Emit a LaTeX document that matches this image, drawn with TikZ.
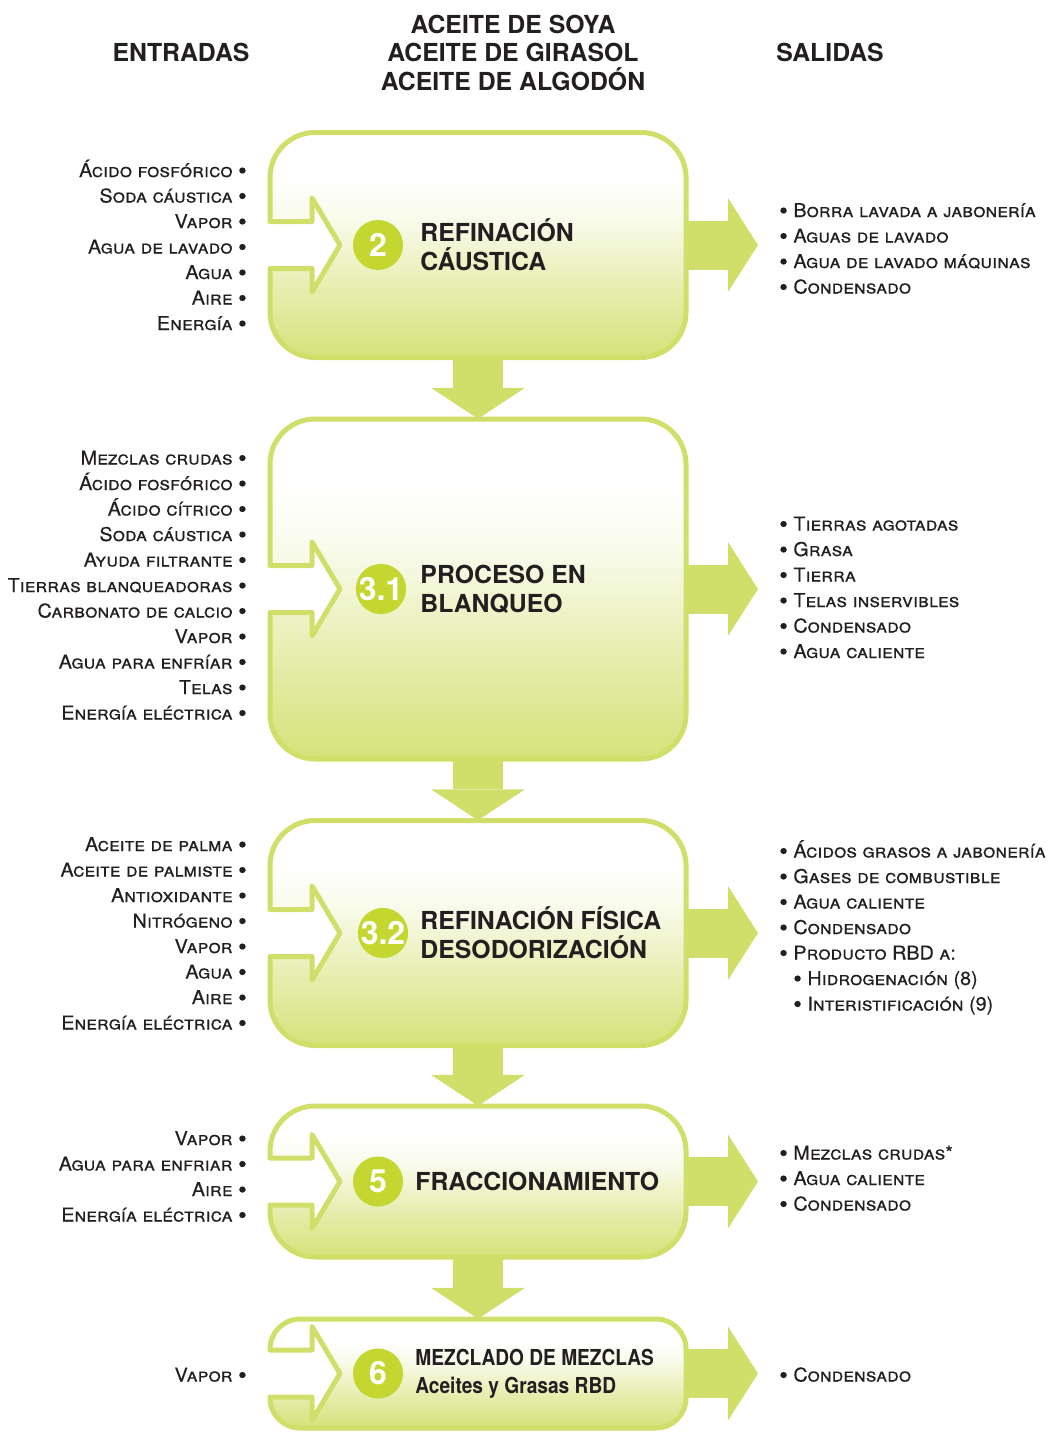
\documentclass[tikz,border=0pt]{standalone}
\usepackage{fontspec}
\setmainfont{TeX Gyre Heros}
\usetikzlibrary{arrows.meta, positioning}

\definecolor{boxgreen}{RGB}{208,223,106}
\definecolor{numgreen}{RGB}{196,215,48}
\definecolor{txtblack}{RGB}{35,31,32}

\pgfdeclareverticalshading{boxshade}{100bp}{color(0bp)=(boxgreen); color(25bp)=(boxgreen!90!white); color(40bp)=(boxgreen!55!white); color(55bp)=(boxgreen!15!white); color(65bp)=(white); color(100bp)=(white)}

% list bullet, a bit larger than the text
\newcommand{\bul}{\raisebox{-1.8pt}{\fontsize{24}{24}\selectfont\textbullet}}

% process box with the input notch: name, centre y, half height, corner radius
\newcommand{\procbox}[4]{%
  \node[boxarea, minimum height={2*#3}] (#1) at (478,#2) {};
  \draw[boxline, rounded corners=#4]
    (270,#2-23.5) -- (270,#2-#3) -- (686,#2-#3) -- (686,#2+#3) -- (270,#2+#3)
    [sharp corners] -- (270,#2+23.5) -- (312,#2+23.5) -- (312,#2+47) -- (340,#2)
    -- (312,#2-47) -- (312,#2-23.5) -- cycle;
}

\begin{document}
\begin{tikzpicture}[
  x=1pt, y=-1pt,
  boxarea/.style={minimum width=416pt, inner sep=0pt},
  boxline/.style={draw=boxgreen, line width=5pt, shading=boxshade, line join=round},
  num/.style={circle, fill=numgreen, minimum size=50pt, inner sep=0pt, text=white, font=\fontsize{32}{32}\selectfont\bfseries},
  title/.style={anchor=west, align=left, inner sep=0pt, text=txtblack, font=\fontsize{24.8}{29}\selectfont\bfseries},
  head/.style={align=center, inner sep=0pt, text=txtblack, font=\fontsize{24.8}{28.5}\selectfont\bfseries},
  inlist/.style={anchor=base east, align=right, inner sep=0pt, text=txtblack, font=\fontsize{19}{25.5}\selectfont\scshape\addfontfeatures{FakeStretch=1.04, FakeBold=0.3}},
  outlist/.style={anchor=base west, align=left, inner sep=0pt, text=txtblack, font=\fontsize{19}{25.5}\selectfont\scshape\addfontfeatures{FakeStretch=1.04, FakeBold=0.3}},
  flow/.style={draw=boxgreen, line width=50pt, -{Triangle[width=94pt, length=31pt, line width=0pt]}},
  outflow/.style={draw=boxgreen, line width=49pt, -{Triangle[width=94pt, length=30pt, line width=0pt]}}
]
\useasboundingbox (0,0) rectangle (1051,1432);

% Headers
\node[head] (hin) at (181,52) {ENTRADAS};
\node[head] (hoil) at (513,52.5) {ACEITE DE SOYA\\ACEITE DE GIRASOL\\ACEITE DE ALGODÓN};
\node[head] (hout) at (830,52) {SALIDAS};

% Process boxes
\procbox{b1}{245}{112.5}{45pt}
\procbox{b2}{589}{170}{45pt}
\procbox{b3}{933}{112.5}{45pt}
\procbox{b4}{1181.5}{75.5}{45pt}
\procbox{b5}{1373.5}{54.5}{30pt}

% Step numbers and names
\node[num] (n1) at (378,245) {2};
\node[title, right=17pt of n1] (t1) {REFINACIÓN\\CÁUSTICA};
\node[num] (n2) at (381,589) {3.1};
\node[title, right=14pt of n2] (t2) {PROCESO EN\\BLANQUEO};
\node[num] (n3) at (383,933) {3.2};
\node[title, right=12pt of n3] (t3) {REFINACIÓN FÍSICA\\DESODORIZACIÓN};
\node[num] (n4) at (378,1181.5) {5};
\node[title, right=12pt of n4] (t4) {FRACCIONAMIENTO};
\node[num] (n5) at (378,1373.5) {6};
\node[title, right=12pt of n5, font=\fontsize{22}{28}\selectfont\bfseries\addfontfeatures{FakeStretch=0.87}] (t5) {MEZCLADO DE MEZCLAS\\Aceites y Grasas RBD};

% Inputs (anchored on the last line)
\node[inlist] (in1) at (247,330) {Ácido fosfórico \bul\\Soda cáustica \bul\\Vapor \bul\\Agua de lavado \bul\\Agua \bul\\Aire \bul\\Energía \bul};
\node[inlist] (in2) at (247,719.5) {Mezclas crudas \bul\\Ácido fosfórico \bul\\Ácido cítrico \bul\\Soda cáustica \bul\\Ayuda filtrante \bul\\Tierras blanqueadoras \bul\\Carbonato de calcio \bul\\Vapor \bul\\Agua para enfríar \bul\\Telas \bul\\Energía eléctrica \bul};
\node[inlist] (in3) at (247,1029.5) {Aceite de palma \bul\\Aceite de palmiste \bul\\Antioxidante \bul\\Nitrógeno \bul\\Vapor \bul\\Agua \bul\\Aire \bul\\Energía eléctrica \bul};
\node[inlist] (in4) at (247,1221.5) {Vapor \bul\\Agua para enfriar \bul\\Aire \bul\\Energía eléctrica \bul};
\node[inlist] (in5) at (247,1381.5) {Vapor \bul};

% Outputs (anchored on the last line)
\node[outlist] (out1) at (779,293.5) {\bul\ Borra lavada a jabonería\\\bul\ Aguas de lavado\\\bul\ Agua de lavado máquinas\\\bul\ Condensado};
\node[outlist] (out2) at (779,658) {\bul\ Tierras agotadas\\\bul\ Grasa\\\bul\ Tierra\\\bul\ Telas inservibles\\\bul\ Condensado\\\bul\ Agua caliente};
\node[outlist] (out3) at (779,1010.5) {\bul\ Ácidos grasos a jabonería\\\bul\ Gases de combustible\\\bul\ Agua caliente\\\bul\ Condensado\\\bul\ Producto RBD a:\\\hspace*{14pt}\bul\ Hidrogenación (8)\\\hspace*{14pt}\bul\ Interistificación (9)};
\node[outlist] (out4) at (779,1210.5) {\bul\ Mezclas crudas*\\\bul\ Agua caliente\\\bul\ Condensado};
\node[outlist] (out5) at (779,1381.5) {\bul\ Condensado};

% Output arrow ends
\coordinate (o1) at (758,245);
\coordinate (o2) at (758,589);
\coordinate (o3) at (758,933);
\coordinate (o4) at (758,1181.5);
\coordinate (o5) at (758,1373.5);

% Flow between steps
\draw[flow] (b1.south) -- (b2.north);
\draw[flow] (b2.south) -- (b3.north);
\draw[flow] (b3.south) -- (b4.north);
\draw[flow] (b4.south) -- (b5.north);

% Outputs of each step
\draw[outflow] (b1.east) -- (o1);
\draw[outflow] (b2.east) -- (o2);
\draw[outflow] (b3.east) -- (o3);
\draw[outflow] (b4.east) -- (o4);
\draw[outflow] (b5.east) -- (o5);

\end{tikzpicture}
\end{document}
